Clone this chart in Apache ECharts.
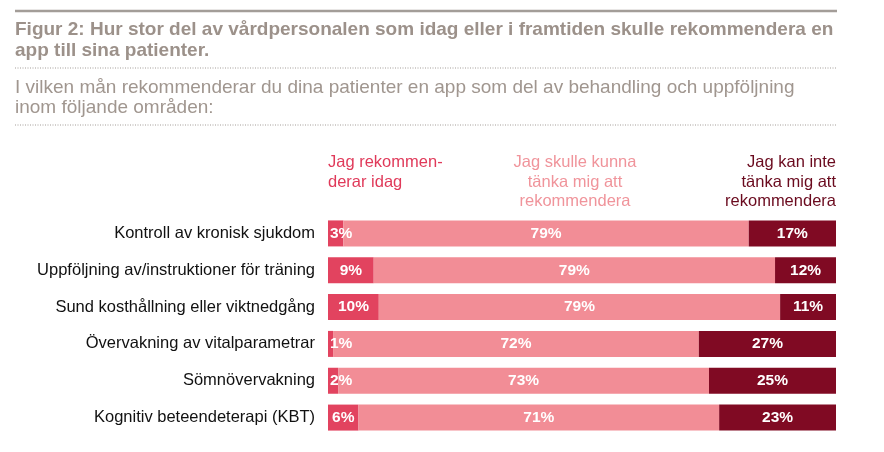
<!DOCTYPE html>
<html>
<head>
<meta charset="utf-8">
<script src="https://cdn.jsdelivr.net/npm/echarts@6/dist/echarts.min.js"></script>
<style>
html,body{margin:0;padding:0;background:#fff;}
#main{width:884px;height:452px;}
</style>
</head>
<body>
<div id="main"></div>
<script>
const titleText = "Figur 2: Hur stor del av vårdpersonalen som idag eller i framtiden skulle rekommendera en\napp till sina patienter.";
const subtitleText = "I vilken mån rekommenderar du dina patienter en app som del av behandling och uppföljning\ninom följande områden:";
const categories = [
  "Kontroll av kronisk sjukdom",
  "Uppföljning av/instruktioner för träning",
  "Sund kosthållning eller viktnedgång",
  "Övervakning av vitalparametrar",
  "Sömnövervakning",
  "Kognitiv beteendeterapi (KBT)"
];
const seriesNames = [
  "Jag rekommen-\nderar idag",
  "Jag skulle kunna\ntänka mig att\nrekommendera",
  "Jag kan inte\ntänka mig att\nrekommendera"
];
const recommendToday = [3, 9, 10, 1, 2, 6];
const couldRecommend = [79, 79, 79, 72, 73, 71];
const cannotRecommend = [17, 12, 11, 27, 25, 23];

const FONT = 'Liberation Sans, Arial, sans-serif';
const colors = ['#e2435f', '#f28d96', '#800a23'];
const headerColors = ['#e03a5a', '#f0949b', '#6a0a1e'];
const rawSeries = [recommendToday, couldRecommend, cannotRecommend];
const totals = categories.map((c, i) => rawSeries.reduce((s, arr) => s + arr[i], 0));

const series = rawSeries.map((arr, si) => ({
  name: seriesNames[si],
  type: 'bar',
  stack: 'total',
  barWidth: 26,
  itemStyle: { color: colors[si] },
  label: {
    show: true,
    position: 'inside',
    color: '#fff',
    fontWeight: 'bold',
    fontSize: 15.5,
    fontFamily: FONT,
    formatter: p => p.data.raw + '%'
  },
  data: arr.map((v, i) => {
    const d = { value: v / totals[i] * 100, raw: v };
    if (si === 0 && v < 5) {
      d.label = { position: 'insideLeft', distance: 2 };
    }
    return d;
  })
}));

const chart = echarts.init(document.getElementById('main'));
const lineColor = '#a39d98';
chart.setOption({
  animation: false,
  textStyle: { fontFamily: FONT },
  title: [
    {
      text: titleText, left: 15, top: 19, padding: 0,
      textStyle: { fontSize: 19, fontWeight: 'bold', color: '#9c918a', lineHeight: 21, fontFamily: FONT }
    },
    {
      text: subtitleText, left: 15, top: 78, padding: 0,
      textStyle: { fontSize: 19, fontWeight: 'normal', color: '#a0968f', lineHeight: 20, fontFamily: FONT }
    }
  ],
  graphic: [
    { type: 'line', shape: { x1: 15, y1: 11, x2: 837, y2: 11 }, style: { stroke: lineColor, lineWidth: 2.5 } },
    { type: 'line', shape: { x1: 15, y1: 68, x2: 837, y2: 68 }, style: { stroke: lineColor, lineWidth: 1, lineDash: [1, 1.5] } },
    { type: 'line', shape: { x1: 15, y1: 125, x2: 837, y2: 125 }, style: { stroke: lineColor, lineWidth: 1, lineDash: [1, 1.5] } },
    { type: 'text', x: 328, y: 153, style: { text: seriesNames[0], fill: headerColors[0], fontSize: 16.5, lineHeight: 19.5, align: 'left', fontFamily: FONT } },
    { type: 'text', x: 575, y: 153, style: { text: seriesNames[1], fill: headerColors[1], fontSize: 16.5, lineHeight: 19.5, align: 'center', fontFamily: FONT } },
    { type: 'text', x: 836, y: 153, style: { text: seriesNames[2], fill: headerColors[2], fontSize: 16.5, lineHeight: 19.5, align: 'right', fontFamily: FONT } }
  ],
  grid: { left: 328, right: 48, top: 215, bottom: 16, containLabel: false },
  xAxis: {
    type: 'value', min: 0, max: 100, show: false
  },
  yAxis: {
    type: 'category',
    data: categories,
    inverse: true,
    axisLine: { show: false },
    axisTick: { show: false },
    axisLabel: { margin: 13, fontSize: 16.5, color: '#111', fontFamily: FONT }
  },
  series: series
});
</script>
</body>
</html>
